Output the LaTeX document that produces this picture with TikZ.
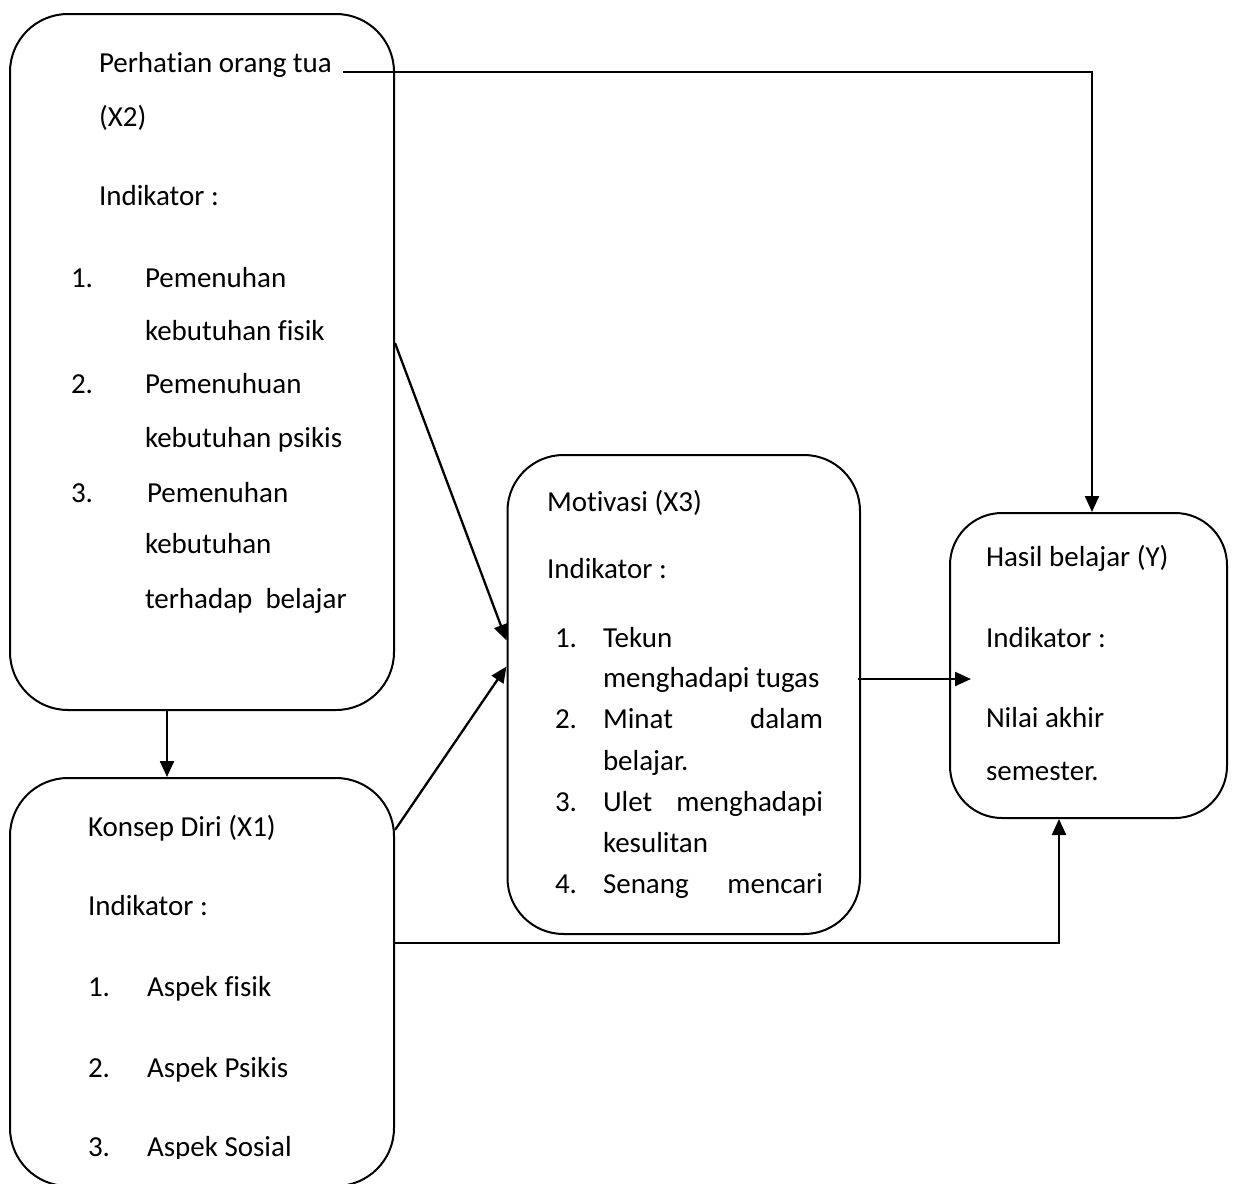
\documentclass[tikz,border=0pt]{standalone}
\usepackage{fontspec}
\setmainfont{Carlito}[Ligatures={NoCommon, NoContextual}]
\usetikzlibrary{arrows.meta, positioning, calc}

\begin{document}
\begin{tikzpicture}[x=0.5pt, y=-0.5pt, line width=1pt,
    >={Triangle[length=8pt, width=7pt]},
    box/.style={draw, rounded corners=#1, inner sep=0pt},
    txt/.style={anchor=base west, inner sep=0pt, font=\fontsize{14.5}{17}\selectfont},
    link/.style={->, line width=1.15pt}]
    \useasboundingbox (0,0) rectangle (1233,1184);
    % Boxes
    \node[box=29pt, minimum width=192pt, minimum height=348pt] (x2) at (202,362) {};
    \node[box=29pt, minimum width=192pt, minimum height=204pt] (x1) at (202,982) {};
    \node[box=28pt, minimum width=176.25pt, minimum height=239.5pt] (x3) at (683.75,694.5) {};
    \node[box=26pt, minimum width=138.5pt, minimum height=152.5pt] (hasil) at (1088.5,665.5) {};
    % Perhatian orang tua (X2)
    \foreach \n/\y/\t in {1/72/{Perhatian orang tua}, 2/126/{(X2)}, 3/205/{Indikator :}}
        \node[txt] (x2-\n) at (98,\y) {\t};
    \foreach \n/\y in {1/287, 2/393, 3/502}
        \node[txt] (x2-no\n) at (70,\y) {\n.};
    \foreach \n/\x/\y/\t in {a/144/287/{Pemenuhan}, b/144/340/{kebutuhan fisik},
        c/144/393/{Pemenuhuan}, d/144/447/{kebutuhan psikis}, e/146/502/{Pemenuhan},
        f/144/553/{kebutuhan}, g/144/608/{terhadap\ \ belajar}}
        \node[txt] (x2-\n) at (\x,\y) {\t};
    % Konsep Diri (X1)
    \begin{scope}
        \clip (0,0) rectangle (1233,1158);
        \foreach \n/\y/\t in {1/836/{Konsep Diri (X1)}, 2/915/{Indikator :}}
            \node[txt] (x1-\n) at (87,\y) {\t};
        \foreach \n/\y/\t in {1/996/{Aspek fisik}, 2/1077/{Aspek Psikis}, 3/1156/{Aspek Sosial}} {
            \node[txt] (x1-no\n) at (87,\y) {\n.};
            \node[txt] (x1-it\n) at (146,\y) {\t};
        }
    \end{scope}
    % Motivasi (X3)
    \foreach \n/\y/\t in {1/511/{Motivasi (X3)}, 2/578/{Indikator :}}
        \node[txt] (x3-\n) at (546,\y) {\t};
    \foreach \n/\y in {1/647, 2/728, 3/811, 4/893}
        \node[txt] (x3-no\n) at (554,\y) {\n.};
    \foreach \n/\y/\t in {a/647/{Tekun}, b/687/{menghadapi tugas},
        c/728/{\makebox[110pt][s]{Minat dalam}}, d/770/{belajar.},
        e/811/{\makebox[110pt][s]{Ulet menghadapi}}, f/852/{kesulitan},
        g/893/{\makebox[110pt][s]{Senang mencari}}}
        \node[txt] (x3-\n) at (602,\y) {\t};
    % Hasil belajar (Y)
    \foreach \n/\y/\t in {1/566/{Hasil belajar (Y)}, 2/647/{Indikator :},
        3/727/{Nilai akhir}, 4/780/{semester.}}
        \node[txt] (hasil-\n) at (985,\y) {\t};
    % Connectors
    \draw[link] ([xshift=5pt]x2-1.base east) -| ([xshift=1.75pt]hasil.north);
    \draw[link] ([yshift=9.5pt]x2.east) -- ([yshift=27pt]x3.west);
    \draw[link] ([xshift=-17.5pt]x2.south) -- ([xshift=-17.5pt]x1.north);
    \draw[link] ([yshift=76pt]x1.east) -- ([yshift=14pt]x3.west);
    \draw[link] ([xshift=-1.5pt, yshift=7.75pt]x3.east) -- ([xshift=11pt, yshift=-6.75pt]hasil.west);
    \draw[link] ([yshift=19.5pt]x1.east) -| ([xshift=-14.75pt]hasil.south);
\end{tikzpicture}
\end{document}
